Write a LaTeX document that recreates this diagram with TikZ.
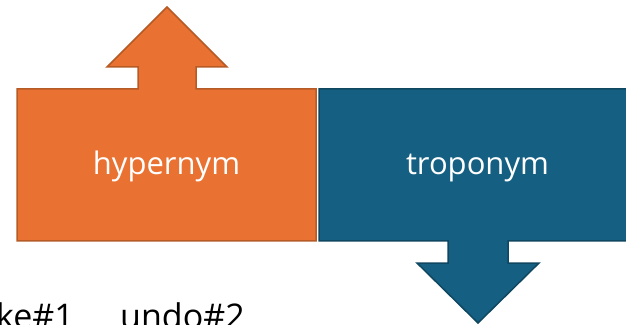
\documentclass[tikz,border=0pt]{standalone}
\usepackage{fontspec}
\setmainfont{Open Sans}
\usepackage{tikz}

\definecolor{relorange}{HTML}{E97132}
\definecolor{relorangeline}{HTML}{B65A26}
\definecolor{relblue}{HTML}{156082}
\definecolor{relblueline}{HTML}{0F4761}

\begin{document}
\begin{tikzpicture}[x=1pt, y=1pt,
            every node/.style = {inner sep=0pt, font=\fontsize{31}{37}\selectfont},
            relshape/.style = {line width=1.5pt, line join=miter},
            sense/.style = {font=\fontsize{34}{41}\selectfont, text=black}]
        \useasboundingbox (0,0) rectangle (626,324);
        \clip (0,0) rectangle (626,324);
        % hypernym box with arrow up
        \draw[relshape, fill=relorange, draw=relorangeline]
            (17,235) -- (138,235) -- (138,257) -- (107,257) -- (167,317)
            -- (227,257) -- (196,257) -- (196,235) -- (316,235)
            -- (316,83) -- (17,83) -- cycle;
        % troponym box with arrow down
        \draw[relshape, fill=relblue, draw=relblueline]
            (319,235) -- (636,235) -- (636,83) -- (508,83) -- (508,61)
            -- (539,61) -- (478,1) -- (417,61) -- (448,61) -- (448,83)
            -- (319,83) -- cycle;
        \node[anchor=base, text=white] (hyper) at (166.5,149) {hypernym};
        \node[anchor=base, text=white] (tropo) at (477.5,149) {troponym};
        % senses below
        \node[sense, anchor=base east] (make) at (74,-4) {ke\#1};
        \node[sense, anchor=base west] (undo) at (120,-4) {undo\#2};
\end{tikzpicture}
\end{document}
